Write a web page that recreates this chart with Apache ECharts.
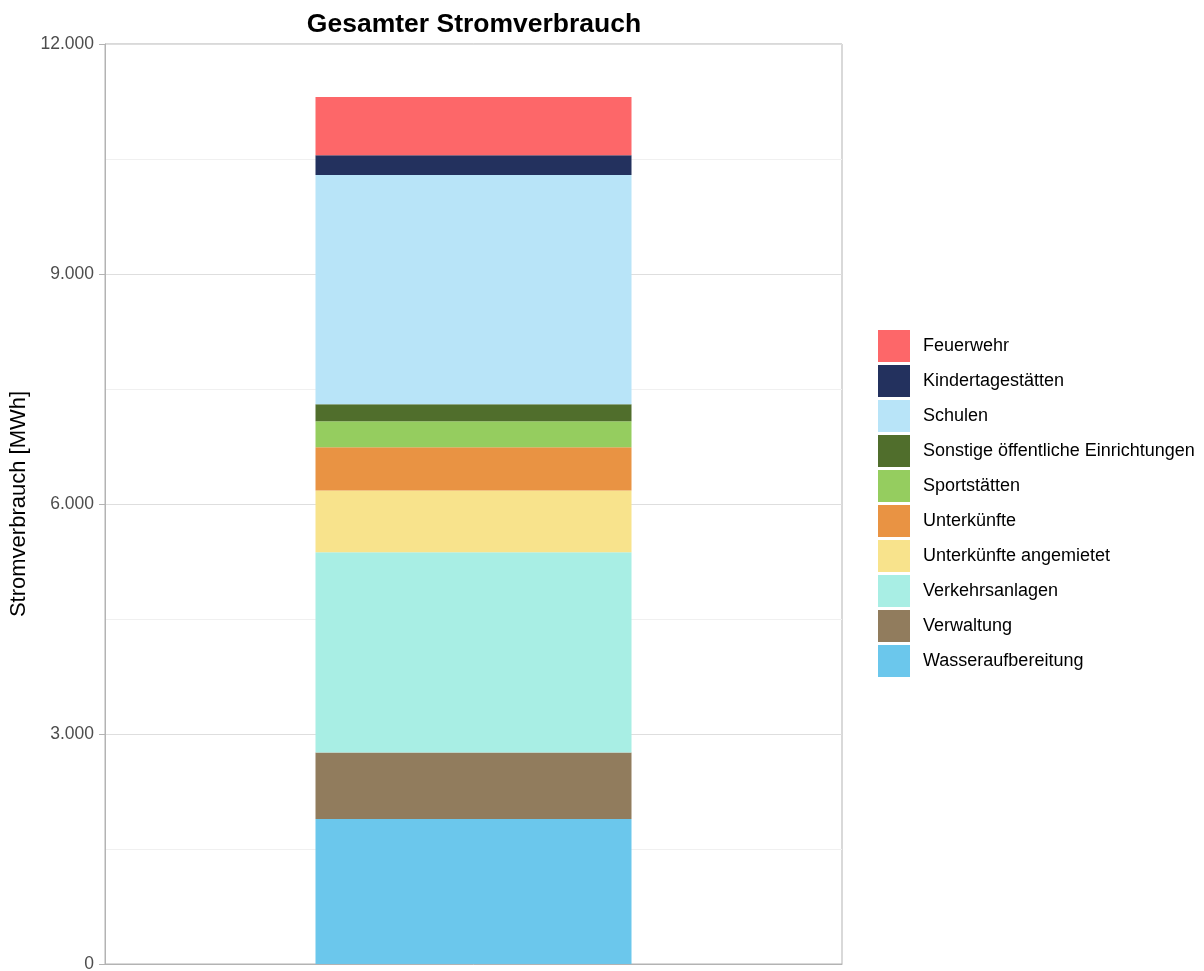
<!DOCTYPE html>
<html>
<head>
<meta charset="utf-8">
<script src="https://cdn.jsdelivr.net/npm/echarts@6/dist/echarts.min.js"></script>
<style>
  html, body { margin: 0; padding: 0; background: #ffffff; }
  #chart { width: 1204px; height: 971px; }
</style>
</head>
<body>
<div id="chart"></div>
<script>
// Stromverbrauch je Gebäudekategorie in MWh (von unten nach oben gestapelt)
const categories = ['Gesamt'];
const kategorien = [
  'Wasseraufbereitung', 'Verwaltung', 'Verkehrsanlagen', 'Unterkünfte angemietet',
  'Unterkünfte', 'Sportstätten', 'Sonstige öffentliche Einrichtungen', 'Schulen',
  'Kindertagestätten', 'Feuerwehr'
];
const verbrauch = [1890, 870, 2610, 805, 565, 340, 220, 2990, 260, 760];
const farben = [
  '#6bc7ec', '#917c5d', '#a8eee4', '#f8e38c', '#e99343',
  '#95cd5f', '#506e2c', '#b8e4f8', '#23315e', '#fd6769'
];
const yTicks = [0, 3000, 6000, 9000, 12000];

// Legende von oben nach unten in umgekehrter Stapelreihenfolge
const legendOrder = kategorien.slice().reverse();

const fmt = v => String(v).replace(/\B(?=(\d{3})+(?!\d))/g, '.');

const chart = echarts.init(document.getElementById('chart'), null, { renderer: 'canvas' });

chart.setOption({
  animation: false,
  backgroundColor: '#ffffff',
  textStyle: { fontFamily: 'Liberation Sans, Arial, sans-serif' },
  title: {
    text: 'Gesamter Stromverbrauch',
    left: 469, textAlign: 'center', top: 6,
    textStyle: { fontSize: 26.5, fontWeight: 'bold', color: '#000000', fontFamily: 'Liberation Sans, Arial, sans-serif' }
  },
  legend: {
    data: legendOrder,
    orient: 'vertical',
    left: 873, top: 325,
    itemWidth: 32, itemHeight: 32, itemGap: 3,
    icon: 'rect',
    textStyle: { fontSize: 18, color: '#000000', padding: [2, 0, 0, 8] }
  },
  grid: {
    left: 105, right: 362, top: 44, bottom: 7,
    outerBoundsMode: 'none',
    containLabel: false,
    show: true, borderColor: '#b3b3b3', borderWidth: 1, backgroundColor: 'transparent'
  },
  xAxis: {
    type: 'category',
    data: categories,
    axisLabel: { show: false },
    axisTick: { show: false },
    axisLine: { show: true, lineStyle: { color: '#b3b3b3' } },
    splitLine: { show: false }
  },
  yAxis: {
    type: 'value',
    min: yTicks[0], max: yTicks[yTicks.length - 1], interval: 3000,
    name: 'Stromverbrauch [MWh]',
    nameLocation: 'middle', nameGap: 73,
    nameTextStyle: { fontSize: 22, color: '#000000' },
    axisLine: { show: true, lineStyle: { color: '#b3b3b3' } },
    axisTick: { show: true, length: 6, lineStyle: { color: '#b3b3b3' } },
    axisLabel: { fontSize: 17.5, color: '#4d4d4d', margin: 11, padding: [3, 0, 0, 0], formatter: v => fmt(v) },
    splitLine: { show: true, lineStyle: { color: '#dedede', width: 1 } },
    minorTick: { show: false, splitNumber: 2 },
    minorSplitLine: { show: true, lineStyle: { color: '#f0f0f0', width: 1 } }
  },
  series: kategorien.map((name, i) => ({
    name,
    type: 'bar',
    stack: 'gesamt',
    barWidth: 316,
    itemStyle: { color: farben[i] },
    data: [verbrauch[i]]
  }))
});
</script>
</body>
</html>
